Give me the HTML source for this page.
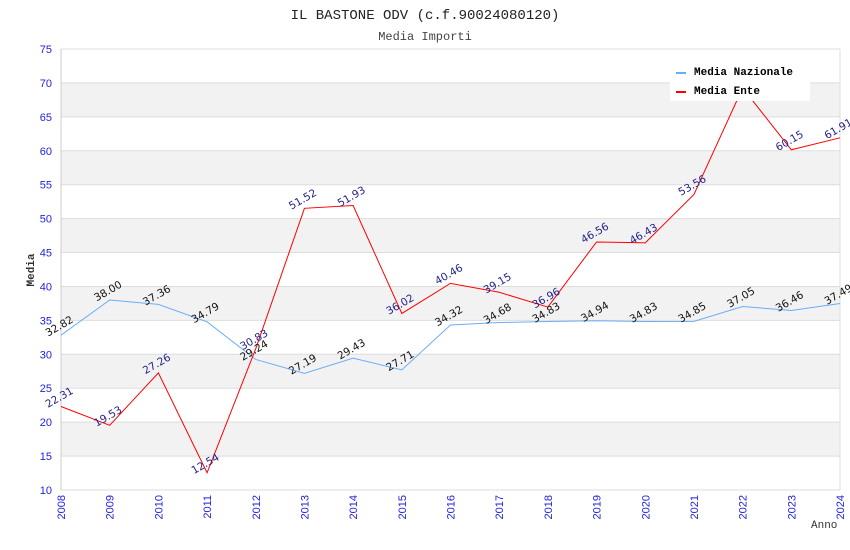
<!DOCTYPE html>
<html><head><meta charset="utf-8"><style>body{margin:0;background:#fff}svg{display:block}</style></head>
<body>
<svg id="chart" width="850" height="550" xmlns="http://www.w3.org/2000/svg" font-family="Liberation Sans, sans-serif">
<text x="425" y="19" text-anchor="middle" font-family="Liberation Mono, monospace" font-size="14" fill="#222">IL BASTONE ODV (c.f.90024080120)</text>
<text x="425" y="40" text-anchor="middle" font-family="Liberation Mono, monospace" font-size="12" fill="#444">Media Importi</text>
<g id="grid"></g><g id="axes"></g><g id="series"></g><g id="labels"></g>
<text transform="translate(34,270) rotate(-90)" text-anchor="middle" font-family="Liberation Mono, monospace" font-weight="bold" font-size="11" fill="#333">Media</text>
<text x="811" y="528" font-family="Liberation Mono, monospace" font-size="11" fill="#333">Anno</text>
<g id="legend">
<rect x="670" y="60" width="140" height="41" fill="#fff"/>
<line x1="676" y1="73" x2="686" y2="73" stroke="#6aaef5" stroke-width="2"/>
<text x="694" y="75" font-family="Liberation Mono, monospace" font-weight="bold" font-size="11">Media Nazionale</text>
<line x1="676" y1="92" x2="686" y2="92" stroke="#f00" stroke-width="2"/>
<text x="694" y="94" font-family="Liberation Mono, monospace" font-weight="bold" font-size="11">Media Ente</text>
</g>
</svg>
<script>
const years=[2008,2009,2010,2011,2012,2013,2014,2015,2016,2017,2018,2019,2020,2021,2022,2023,2024];
const nazionale=[32.82,38.00,37.36,34.79,29.24,27.19,29.43,27.71,34.32,34.68,34.83,34.94,34.83,34.85,37.05,36.46,37.49];
const ente=[22.31,19.53,27.26,12.54,30.83,51.52,51.93,36.02,40.46,39.15,36.96,46.56,46.43,53.56,69.25,60.15,61.91];
const yTicks=[10,15,20,25,30,35,40,45,50,55,60,65,70,75];
const NS='http://www.w3.org/2000/svg';
const X0=61,X1=840,Y0=490,Y1=49;
const xs=i=>X0+(X1-X0)*i/(years.length-1);
const ys=v=>Y0-(v-10)/(75-10)*(Y0-Y1);
function mk(p,t,a){const e=document.createElementNS(NS,t);for(const k in a)e.setAttribute(k,a[k]);document.getElementById(p).appendChild(e);return e;}
const g='grid';
for(let i=0;i<yTicks.length-1;i++){const lo=yTicks[i],hi=yTicks[i+1];
 if(lo%10===5){const r=mk(g,'rect',{x:X0,y:ys(hi),width:X1-X0,height:ys(lo)-ys(hi),fill:'#f2f2f2'});
 
 }}
yTicks.forEach(t=>{const l=mk(g,'line',{x1:X0,x2:X1,y1:ys(t),y2:ys(t),stroke:'#ddd'});
 
 
 const tx=mk('axes','text',{x:52,y:ys(t)+4,'text-anchor':'end','font-size':11,fill:'#2222dd'});tx.textContent=t;
 
 });
mk('axes','line',{x1:X0,x2:X0,y1:Y1,y2:Y0,stroke:'#ccc'});
mk('axes','line',{x1:X1,x2:X1,y1:Y1,y2:Y0,stroke:'#ddd'});
years.forEach((y,i)=>{const tx=mk('axes','text',{transform:`translate(${xs(i)+4},${Y0+5}) rotate(-90)`,'text-anchor':'end','font-size':11,fill:'#2222dd'});tx.textContent=y;
 
 });
function series(vals,color,lc,name){
 const p=mk('series','polyline',{points:vals.map((v,i)=>xs(i)+','+ys(v)).join(' '),fill:'none',stroke:color,'stroke-width':1});
 
 
 vals.forEach((v,i)=>{const x=xs(i),y=ys(v)-6;
  const t=mk('labels','text',{transform:`translate(${x},${y}) rotate(-30)`,'text-anchor':'middle','font-size':11,'font-family':'DejaVu Sans, sans-serif','font-size':10.5,fill:lc});
  t.textContent=v.toFixed(2);
  
  });
}
series(nazionale,'#6aaef5','#111','nazionale');
series(ente,'#ff0000','#22228a','ente');
document.getElementById('chart').appendChild(document.getElementById('legend'));
</script>
</body></html>
